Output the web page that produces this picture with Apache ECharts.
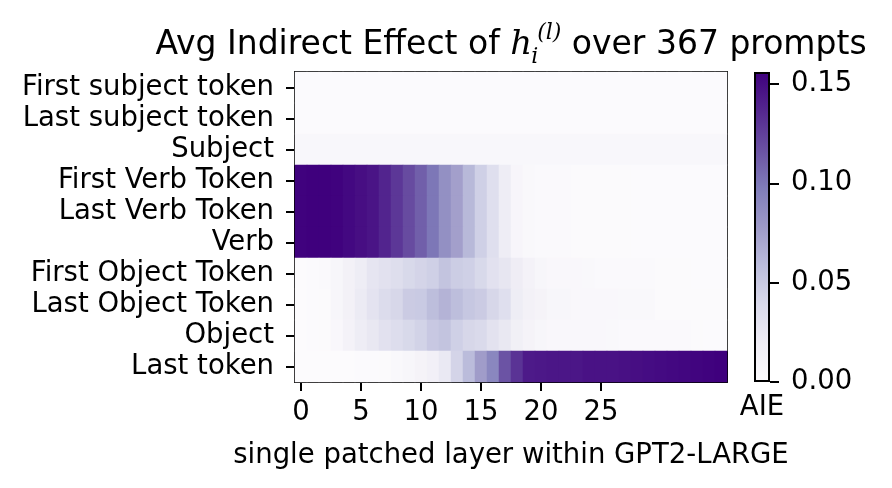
<!DOCTYPE html>
<html>
<head>
<meta charset="utf-8">
<script src="https://cdn.jsdelivr.net/npm/echarts@6/dist/echarts.min.js"></script>
<style>
  html, body { margin: 0; padding: 0; background: #fff; }
  #chart { width: 892px; height: 488px; }
</style>
</head>
<body>
<div id="chart"></div>
<script>
// rows, top to bottom
var rowLabels = ['First subject token', 'Last subject token', 'Subject',
  'First Verb Token', 'Last Verb Token', 'Verb',
  'First Object Token', 'Last Object Token', 'Object', 'Last token'];

// layers 0..35
var layers = [];
for (var i = 0; i < 36; i++) layers.push(String(i));

var xTicks = [0, 5, 10, 15, 20, 25];
var cbTicks = [0, 0.05, 0.10, 0.15];

var firstSubject = [0.001,0.001,0.001,0.001,0.001,0.001,0.001,0.001,0.001,0.001,0.001,0.001,0.001,0.001,0.001,0.001,0.001,0.001,
  0.001,0.001,0.001,0.001,0.001,0.001,0.001,0.001,0.001,0.001,0.001,0.001,0.001,0.001,0.001,0.001,0.001,0.001];
var lastSubject = [0.001,0.001,0.001,0.001,0.001,0.001,0.001,0.001,0.001,0.001,0.001,0.001,0.001,0.001,0.001,0.001,0.001,0.001,
  0.001,0.001,0.001,0.001,0.001,0.001,0.001,0.001,0.001,0.001,0.001,0.001,0.001,0.001,0.001,0.001,0.001,0.001];
var subject = [0.006,0.006,0.006,0.006,0.006,0.006,0.006,0.006,0.006,0.006,0.006,0.006,0.006,0.006,0.006,0.006,0.006,0.006,
  0.006,0.006,0.006,0.006,0.006,0.006,0.006,0.006,0.006,0.006,0.006,0.006,0.006,0.006,0.006,0.006,0.006,0.006];
var firstVerb = [0.155,0.156,0.156,0.155,0.152,0.149,0.146,0.138,0.129,0.120,0.111,0.100,0.085,0.075,0.061,0.046,0.034,0.020,
  0.008,0.004,0.003,0.003,0.003,0.002,0.002,0.002,0.002,0.002,0.001,0.001,0.001,0.001,0.001,0.001,0.001,0.001];
var lastVerb = [0.155,0.156,0.156,0.155,0.152,0.149,0.146,0.138,0.129,0.120,0.111,0.100,0.085,0.075,0.061,0.046,0.034,0.020,
  0.008,0.004,0.003,0.003,0.003,0.002,0.002,0.002,0.002,0.002,0.001,0.001,0.001,0.001,0.001,0.001,0.001,0.001];
var verb = [0.155,0.156,0.156,0.155,0.152,0.149,0.146,0.138,0.129,0.120,0.111,0.100,0.085,0.075,0.061,0.046,0.034,0.020,
  0.008,0.004,0.003,0.003,0.003,0.002,0.002,0.002,0.002,0.002,0.001,0.001,0.001,0.001,0.001,0.001,0.001,0.001];
var firstObject = [0.000,0.001,0.003,0.007,0.014,0.020,0.028,0.032,0.035,0.040,0.043,0.046,0.054,0.048,0.046,0.040,0.032,0.027,
  0.019,0.012,0.007,0.005,0.005,0.005,0.004,0.003,0.003,0.003,0.003,0.003,0.002,0.002,0.002,0.001,0.001,0.001];
var lastObject = [0.000,0.001,0.002,0.007,0.014,0.022,0.030,0.037,0.041,0.049,0.050,0.058,0.064,0.058,0.052,0.049,0.041,0.034,
  0.020,0.014,0.011,0.007,0.007,0.005,0.005,0.005,0.005,0.004,0.004,0.004,0.002,0.002,0.002,0.002,0.002,0.002];
var object = [0.000,0.001,0.002,0.005,0.012,0.020,0.025,0.032,0.036,0.040,0.044,0.051,0.054,0.046,0.041,0.039,0.031,0.025,
  0.016,0.011,0.007,0.005,0.005,0.005,0.005,0.005,0.004,0.003,0.003,0.003,0.003,0.003,0.003,0.002,0.001,0.001];
var lastToken = [0.000,0.000,0.000,0.000,0.000,0.001,0.001,0.002,0.004,0.007,0.011,0.015,0.024,0.043,0.059,0.077,0.091,0.116,
  0.131,0.143,0.144,0.145,0.145,0.145,0.147,0.147,0.147,0.148,0.149,0.150,0.151,0.152,0.153,0.154,0.155,0.156];

var rows = [firstSubject, lastSubject, subject, firstVerb, lastVerb, verb,
  firstObject, lastObject, object, lastToken];

// matplotlib Purples
var purples = ['#fcfbfd', '#efedf5', '#dadaeb', '#bcbddc', '#9e9ac8', '#807dba', '#6a51a3', '#54278f', '#3f007d'];

var cells = [];
var vmax = 0;
rows.forEach(function (r, y) {
  r.forEach(function (v, x) {
    cells.push([x, y, v]);
    if (v > vmax) vmax = v;
  });
});

var font = 'DejaVu Sans';
var fs = 27.5;
var isXTick = function (idx) { return xTicks.indexOf(idx) >= 0; };

var chart = echarts.init(document.getElementById('chart'));
chart.setOption({
  backgroundColor: '#fff',
  animation: false,
  title: {
    text: 'Avg Indirect Effect of {h|h}{i|i}{l|(l)} over 367 prompts',
    left: 511,
    top: 22,
    textAlign: 'center',
    padding: 0,
    textStyle: {
      fontFamily: font,
      fontSize: 33,
      fontWeight: 'normal',
      color: '#000',
      lineHeight: 46,
      rich: {
        h: { fontFamily: 'DejaVu Serif', fontStyle: 'italic', fontSize: 34, color: '#000', lineHeight: 46 },
        i: { fontFamily: 'DejaVu Serif', fontStyle: 'italic', fontSize: 22, color: '#000', lineHeight: 22, verticalAlign: 'bottom', width: 5 },
        l: { fontFamily: 'DejaVu Serif', fontStyle: 'italic', fontSize: 22, color: '#000', lineHeight: 22, verticalAlign: 'top' }
      }
    }
  },
  // whole-pixel cells (12 x 31) so no seams appear between them
  grid: [
    { left: 295, top: 72, width: 432, height: 310 },
    { left: 754, top: 72, width: 16, height: 310 }
  ],
  visualMap: {
    type: 'continuous',
    show: false,
    seriesIndex: 0,
    min: 0,
    max: vmax,
    inRange: { color: purples }
  },
  xAxis: [
    {
      type: 'category', gridIndex: 0, data: layers,
      name: 'single patched layer within GPT2-LARGE',
      nameLocation: 'middle', nameGap: 60,
      nameTextStyle: { fontFamily: font, fontSize: fs, color: '#000' },
      axisLine: { show: true, lineStyle: { color: '#000', width: 2 } },
      axisTick: { show: true, alignWithLabel: true, length: 9, interval: isXTick, lineStyle: { color: '#000', width: 2 } },
      axisLabel: { interval: isXTick, margin: 17, fontFamily: font, fontSize: fs, color: '#000' },
      splitLine: { show: false }
    },
    {
      type: 'category', gridIndex: 0, data: layers, position: 'top',
      axisLine: { show: true, lineStyle: { color: '#000', width: 2 } },
      axisTick: { show: false }, axisLabel: { show: false }, splitLine: { show: false }
    },
    {
      type: 'category', gridIndex: 1, data: ['AIE'],
      name: 'AIE', nameLocation: 'middle', nameGap: 12,
      nameTextStyle: { fontFamily: font, fontSize: fs, color: '#000', verticalAlign: 'top' },
      axisLine: { show: false }, axisTick: { show: false }, axisLabel: { show: false }
    }
  ],
  yAxis: [
    {
      type: 'category', gridIndex: 0, data: rowLabels, inverse: true,
      axisLine: { show: true, lineStyle: { color: '#000', width: 2 } },
      axisTick: { show: true, alignWithLabel: true, interval: 0, length: 9, lineStyle: { color: '#000', width: 2 } },
      axisLabel: { interval: 0, margin: 21, fontFamily: font, fontSize: fs, color: '#000' },
      splitLine: { show: false }
    },
    {
      type: 'category', gridIndex: 0, data: rowLabels, inverse: true, position: 'right',
      axisLine: { show: true, lineStyle: { color: '#000', width: 2 } },
      axisTick: { show: false }, axisLabel: { show: false }, splitLine: { show: false }
    },
    {
      type: 'value', gridIndex: 1, min: 0, max: vmax, position: 'right',
      axisLine: { show: false },
      axisTick: { show: true, length: 9, customValues: cbTicks, lineStyle: { color: '#000', width: 2 } },
      axisLabel: {
        customValues: cbTicks, margin: 21, fontFamily: font, fontSize: fs, color: '#000',
        formatter: function (v) { return v.toFixed(2); }
      },
      splitLine: { show: false }
    }
  ],
  series: [
    {
      type: 'heatmap',
      xAxisIndex: 0, yAxisIndex: 0,
      data: cells,
      itemStyle: { borderWidth: 0 },
      emphasis: { disabled: true }
    },
    {
      type: 'bar',
      xAxisIndex: 2, yAxisIndex: 2,
      data: [vmax],
      barWidth: '100%',
      silent: true,
      itemStyle: {
        borderColor: '#000',
        borderWidth: 2,
        color: new echarts.graphic.LinearGradient(0, 1, 0, 0,
          purples.map(function (c, k) { return { offset: k / (purples.length - 1), color: c }; }))
      }
    }
  ]
});
</script>
</body>
</html>
